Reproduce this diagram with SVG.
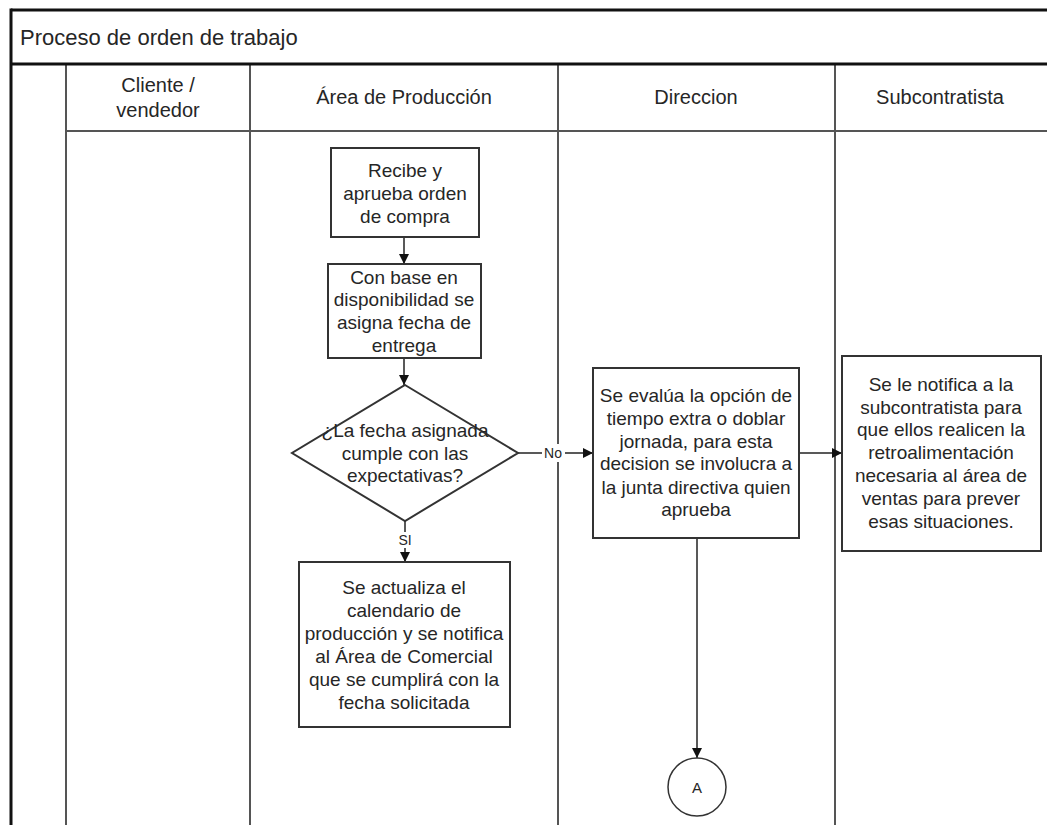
<svg xmlns="http://www.w3.org/2000/svg" width="1047" height="825" viewBox="0 0 1047 825">
  <style>
    text { font-family: "Liberation Sans", Arial, sans-serif; fill: #262626; }
    .hdr { font-size: 20px; text-anchor: middle; }
    .ttl { font-size: 22px; }
    .lbl { font-size: 19px; text-anchor: middle; }
    .small { font-size: 14px; text-anchor: middle; }
    .frame { fill: none; stroke: #111; stroke-width: 3; }
    .lane { fill: none; stroke: #555; stroke-width: 2; }
    .box { fill: #fff; stroke: #333; stroke-width: 2; }
    .edge { fill: none; stroke: #222; stroke-width: 1.5; }
  </style>
  <defs>
    <marker id="arrow" viewBox="0 0 10 10" refX="10" refY="5" markerWidth="10" markerHeight="10" markerUnits="userSpaceOnUse" orient="auto">
      <path d="M0,0 L10,5 L0,10 Z" fill="#111"/>
    </marker>
  </defs>
  <rect width="1047" height="825" fill="#fff"/>

  <!-- pool frame and lanes -->
  <g id="pool">
    <line class="lane" x1="66" y1="64" x2="66" y2="825"/>
    <line class="lane" x1="250" y1="64" x2="250" y2="825"/>
    <line class="lane" x1="558" y1="64" x2="558" y2="825"/>
    <line class="lane" x1="835" y1="64" x2="835" y2="825"/>
    <line class="lane" x1="66" y1="131" x2="1047" y2="131"/>
    <line class="frame" x1="11" y1="10" x2="1047" y2="10"/>
    <line class="frame" x1="11" y1="64" x2="1047" y2="64"/>
    <line class="frame" x1="11" y1="8.5" x2="11" y2="825"/>
    <text class="ttl" x="20" y="45">Proceso de orden de trabajo</text>
    <text class="hdr" x="158" y="92">Cliente /</text>
    <text class="hdr" x="158" y="117">vendedor</text>
    <text class="hdr" x="404" y="104">Área de Producción</text>
    <text class="hdr" x="696" y="104">Direccion</text>
    <text class="hdr" x="940" y="104">Subcontratista</text>
  </g>

  <!-- connectors -->
  <g id="connectors">
    <line class="edge" x1="404" y1="237" x2="404" y2="264" marker-end="url(#arrow)"/>
    <line class="edge" x1="404" y1="358" x2="404" y2="385" marker-end="url(#arrow)"/>
    <line class="edge" x1="405" y1="521" x2="405" y2="562" marker-end="url(#arrow)"/>
    <line class="edge" x1="518" y1="453" x2="593" y2="453" marker-end="url(#arrow)"/>
    <line class="edge" x1="799" y1="453" x2="842" y2="453" marker-end="url(#arrow)"/>
    <line class="edge" x1="697" y1="538" x2="697" y2="758" marker-end="url(#arrow)"/>
    <rect x="542" y="444" width="23" height="18" fill="#fff"/>
    <text class="small" x="553" y="458">No</text>
    <rect x="397" y="532" width="17" height="16" fill="#fff"/>
    <text class="small" x="405" y="545">SI</text>
  </g>

  <g id="recibe">
    <rect class="box" x="331" y="148" width="148" height="89"/>
    <text class="lbl" x="405" y="177">Recibe y</text>
    <text class="lbl" x="405" y="200">aprueba orden</text>
    <text class="lbl" x="405" y="223">de compra</text>
  </g>

  <g id="asigna">
    <rect class="box" x="328" y="264" width="153" height="94"/>
    <text class="lbl" x="404" y="284">Con base en</text>
    <text class="lbl" x="404" y="306">disponibilidad se</text>
    <text class="lbl" x="404" y="329">asigna fecha de</text>
    <text class="lbl" x="404" y="352">entrega</text>
  </g>

  <g id="decision">
    <polygon class="box" points="405,385 518,453 405,521 292,453"/>
    <text class="lbl" x="405" y="437">¿La fecha asignada</text>
    <text class="lbl" x="405" y="460">cumple con las</text>
    <text class="lbl" x="405" y="482">expectativas?</text>
  </g>

  <g id="actualiza">
    <rect class="box" x="299" y="562" width="211" height="165"/>
    <text class="lbl" x="404" y="594">Se actualiza el</text>
    <text class="lbl" x="404" y="617">calendario de</text>
    <text class="lbl" x="404" y="640">producción y se notifica</text>
    <text class="lbl" x="404" y="663">al Área de Comercial</text>
    <text class="lbl" x="404" y="686">que se cumplirá con la</text>
    <text class="lbl" x="404" y="709">fecha solicitada</text>
  </g>

  <g id="evalua">
    <rect class="box" x="593" y="368" width="206" height="170"/>
    <text class="lbl" x="696" y="402">Se evalúa la opción de</text>
    <text class="lbl" x="696" y="425">tiempo extra o doblar</text>
    <text class="lbl" x="696" y="448">jornada, para esta</text>
    <text class="lbl" x="696" y="470">decision se involucra a</text>
    <text class="lbl" x="696" y="494">la junta directiva quien</text>
    <text class="lbl" x="696" y="516">aprueba</text>
  </g>

  <g id="notifica">
    <rect class="box" x="842" y="356" width="199" height="195"/>
    <text class="lbl" x="941" y="391">Se le notifica a la</text>
    <text class="lbl" x="941" y="414">subcontratista para</text>
    <text class="lbl" x="941" y="436">que ellos realicen la</text>
    <text class="lbl" x="941" y="459">retroalimentación</text>
    <text class="lbl" x="941" y="482">necesaria al área de</text>
    <text class="lbl" x="941" y="505">ventas para prever</text>
    <text class="lbl" x="941" y="528">esas situaciones.</text>
  </g>

  <g id="conector-a">
    <circle cx="697" cy="787" r="29" fill="#fff" stroke="#333" stroke-width="1.5"/>
    <text class="small" x="697" y="793" style="font-size:15px">A</text>
  </g>
</svg>
